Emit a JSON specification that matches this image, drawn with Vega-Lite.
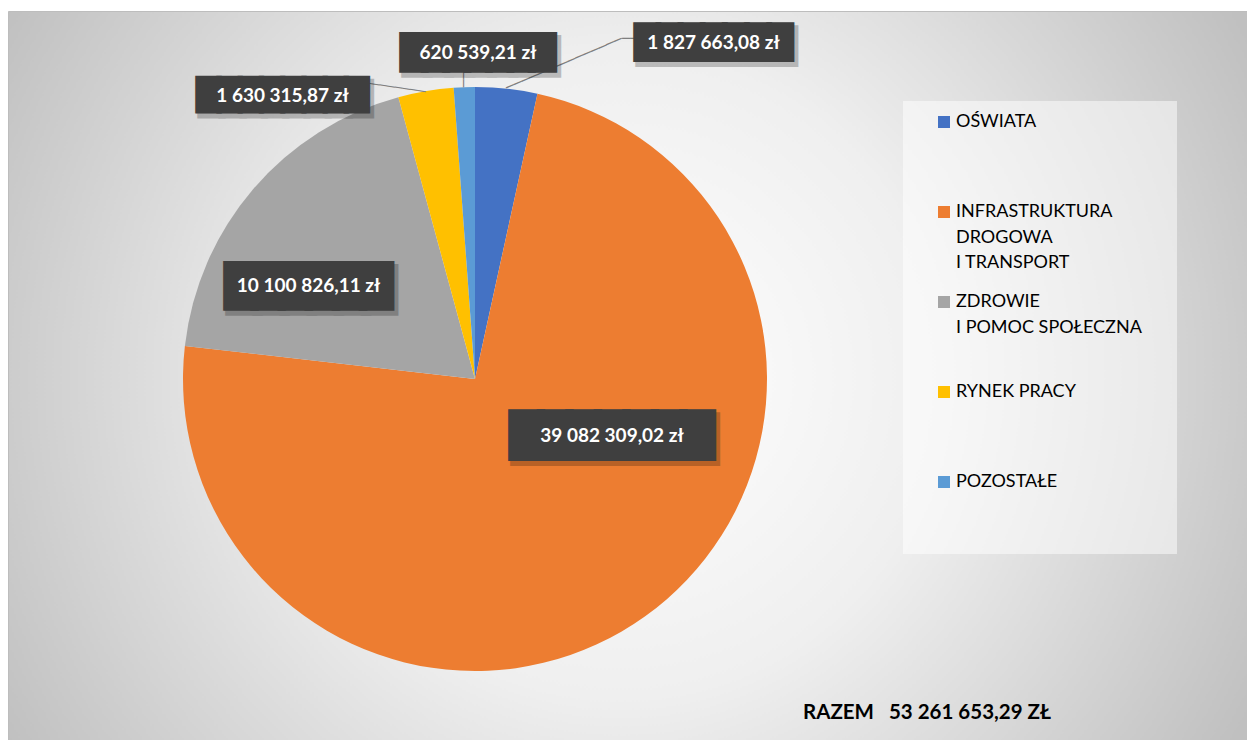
{
  "$schema": "https://vega.github.io/schema/vega-lite/v6.json",
  "width": 1239,
  "height": 729,
  "autosize": {"type": "none"},
  "padding": {"left": 8, "top": 11, "right": 0, "bottom": 0},
  "background": "#ffffff",
  "view": {
    "fill": {"gradient": "radial", "x1": 0.494, "y1": 0.5, "x2": 0.494, "y2": 0.5, "r1": 0, "r2": 0.575,
      "stops": [{"offset": 0, "color": "#ffffff"}, {"offset": 0.45, "color": "#efefef"}, {"offset": 1, "color": "#c0c0c0"}]},
    "stroke": "#bdbdbd",
    "strokeWidth": 1
  },
  "config": {
    "locale": {"number": {"decimal": ",", "thousands": " ", "grouping": [3], "currency": ["", " zł"]}},
    "style": {"guide-label": {"lineHeight": 25.5}}
  },
  "title": {
    "text": "RAZEM \u00a0 53 261 653,29 ZŁ",
    "orient": "bottom", "anchor": "start", "frame": "group", "offset": -37, "dx": 795,
    "baseline": "top", "font": "Lato", "fontSize": 20.5, "fontWeight": "bold", "color": "#000000"
  },
  "data": {"values": [
    {"kategoria": "OŚWIATA", "wartosc": 1827663.08, "kolejnosc": 1},
    {"kategoria": "INFRASTRUKTURA\nDROGOWA\nI TRANSPORT", "wartosc": 39082309.02, "kolejnosc": 2},
    {"kategoria": "ZDROWIE\nI POMOC SPOŁECZNA", "wartosc": 10100826.11, "kolejnosc": 3},
    {"kategoria": "RYNEK PRACY", "wartosc": 1630315.87, "kolejnosc": 4},
    {"kategoria": "POZOSTAŁE", "wartosc": 620539.21, "kolejnosc": 5}
  ]},
  "transform": [
    {"stack": "wartosc", "groupby": [], "offset": "normalize", "sort": [{"field": "kolejnosc", "order": "ascending"}], "as": ["w0", "w1"]},
    {"calculate": "(datum.w0 + datum.w1) / 2", "as": "wmid"}
  ],
  "encoding": {
    "x": {"datum": 0, "type": "quantitative", "scale": {"domain": [-1.5993, 2.6438], "nice": false, "zero": false}, "axis": null},
    "y": {"datum": 0, "type": "quantitative", "scale": {"domain": [-1.2363, 1.2603], "nice": false, "zero": false}, "axis": null}
  },
  "layer": [
    {
      "mark": {"type": "arc", "radius": 292},
      "encoding": {
        "theta": {"field": "w0", "type": "quantitative", "stack": null, "scale": {"domain": [0, 1], "nice": false}},
        "theta2": {"field": "w1"},
        "color": {
          "field": "kategoria", "type": "nominal", "sort": null,
          "scale": {"range": ["#4472C4", "#ED7D31", "#A5A5A5", "#FFC000", "#5B9BD5"]},
          "legend": {
            "orient": "none", "legendX": 895, "legendY": 90, "title": null, "direction": "vertical",
            "fillColor": "rgba(255,255,255,0.5)", "padding": 12,
            "symbolType": "square", "symbolSize": 144, "symbolStrokeWidth": 0,
            "symbolOffset": 20, "labelOffset": 3,
            "labelFont": "Lato", "labelFontSize": 18, "labelColor": "#000000", "labelLimit": 400,
            "labelExpr": "slice(split(datum.label + '\u00a0\u00a0\u00a0\u00a0\u00a0\u200b\\n \\n ', '\\n'), 0, 3)",
            "rowPadding": 21, "gridAlign": "all"
          }
        }
      }
    },
    {
      "transform": [{"filter": "datum.kolejnosc == 1"}],
      "encoding": {"theta": {"field": "wmid", "type": "quantitative", "scale": {"domain": [0, 1], "nice": false}}},
      "layer": [
        {"mark": {"type": "text", "radius": 292, "text": "───────────────", "font": "DejaVu Sans", "fontSize": 13.93, "align": "left", "baseline": "middle", "angle": -23.26, "fill": "#7f7f7f"}},
        {"mark": {"type": "text", "radius": 292, "text": "──", "font": "DejaVu Sans", "fontSize": 14, "align": "left", "baseline": "middle", "dx": 115.6, "dy": -49.7, "fill": "#7f7f7f"}},
        {"mark": {"type": "text", "radius": 292, "text": "███████", "font": "DejaVu Sans", "fontSize": 28.82, "align": "center", "baseline": "middle", "dx": 210.1, "dy": -41.5, "fill": "#000000", "stroke": "#000000", "strokeWidth": 7.45, "strokeJoin": "miter", "opacity": 0.22}},
        {"mark": {"type": "text", "radius": 292, "text": "███████", "font": "DejaVu Sans", "fontSize": 28.82, "align": "center", "baseline": "middle", "dx": 207.1, "dy": -45.5, "fill": "#3f3f3f", "stroke": "#3f3f3f", "strokeWidth": 5.45, "strokeJoin": "miter"}},
        {"mark": {"type": "text", "radius": 292, "font": "Lato", "fontSize": 19, "fontWeight": "bold", "align": "center", "baseline": "middle", "dx": 207.1, "dy": -46.0, "fill": "#ffffff"},
         "encoding": {"text": {"field": "wartosc", "type": "quantitative", "format": "$,.2f"}}}
      ]
    },
    {
      "transform": [{"filter": "datum.kolejnosc == 5"}],
      "encoding": {"theta": {"field": "wmid", "type": "quantitative", "scale": {"domain": [0, 1], "nice": false}}},
      "layer": [
        {"mark": {"type": "text", "radius": 292, "text": "───", "font": "DejaVu Sans", "fontSize": 13, "align": "left", "baseline": "middle", "angle": -90, "fill": "#7f7f7f"}},
        {"mark": {"type": "text", "radius": 292, "text": "███████", "font": "DejaVu Sans", "fontSize": 27.88, "align": "center", "baseline": "middle", "dx": 16.7, "dy": -29.5, "fill": "#000000", "stroke": "#000000", "strokeWidth": 9.55, "strokeJoin": "miter", "opacity": 0.22}},
        {"mark": {"type": "text", "radius": 292, "text": "███████", "font": "DejaVu Sans", "fontSize": 27.88, "align": "center", "baseline": "middle", "dx": 13.7, "dy": -33.5, "fill": "#3f3f3f", "stroke": "#3f3f3f", "strokeWidth": 7.55, "strokeJoin": "miter"}},
        {"mark": {"type": "text", "radius": 292, "font": "Lato", "fontSize": 19, "fontWeight": "bold", "align": "center", "baseline": "middle", "dx": 13.7, "dy": -34.0, "fill": "#ffffff"},
         "encoding": {"text": {"field": "wartosc", "type": "quantitative", "format": "$,.2f"}}}
      ]
    },
    {
      "transform": [{"filter": "datum.kolejnosc == 4"}],
      "encoding": {"theta": {"field": "wmid", "type": "quantitative", "scale": {"domain": [0, 1], "nice": false}}},
      "layer": [
        {"mark": {"type": "text", "radius": 292, "text": "────────", "font": "DejaVu Sans", "fontSize": 13, "align": "left", "baseline": "middle", "angle": 188.36, "fill": "#7f7f7f"}},
        {"mark": {"type": "text", "radius": 292, "text": "████████", "font": "DejaVu Sans", "fontSize": 27.58, "align": "center", "baseline": "middle", "dx": -140.3, "dy": 8.95, "fill": "#000000", "stroke": "#000000", "strokeWidth": 6.9, "strokeJoin": "miter", "opacity": 0.22}},
        {"mark": {"type": "text", "radius": 292, "text": "████████", "font": "DejaVu Sans", "fontSize": 27.58, "align": "center", "baseline": "middle", "dx": -143.3, "dy": 4.95, "fill": "#3f3f3f", "stroke": "#3f3f3f", "strokeWidth": 4.9, "strokeJoin": "miter"}},
        {"mark": {"type": "text", "radius": 292, "font": "Lato", "fontSize": 19, "fontWeight": "bold", "align": "center", "baseline": "middle", "dx": -143.3, "dy": 4.5, "fill": "#ffffff"},
         "encoding": {"text": {"field": "wartosc", "type": "quantitative", "format": "$,.2f"}}}
      ]
    },
    {
      "transform": [{"filter": "datum.kolejnosc == 3"}],
      "encoding": {"theta": {"field": "wmid", "type": "quantitative", "scale": {"domain": [0, 1], "nice": false}}},
      "layer": [
        {"mark": {"type": "text", "radius": 190, "text": "██████", "font": "DejaVu Sans", "fontSize": 35.24, "align": "center", "baseline": "middle", "dx": -19.3, "dy": 35.35, "fill": "#000000", "stroke": "#000000", "strokeWidth": 9.98, "strokeJoin": "miter", "opacity": 0.22}},
        {"mark": {"type": "text", "radius": 190, "text": "██████", "font": "DejaVu Sans", "fontSize": 35.24, "align": "center", "baseline": "middle", "dx": -22.3, "dy": 31.35, "fill": "#3f3f3f", "stroke": "#3f3f3f", "strokeWidth": 7.98, "strokeJoin": "miter"}},
        {"mark": {"type": "text", "radius": 190, "font": "Lato", "fontSize": 19, "fontWeight": "bold", "align": "center", "baseline": "middle", "dx": -22.3, "dy": 30.45, "fill": "#ffffff"},
         "encoding": {"text": {"field": "wartosc", "type": "quantitative", "format": "$,.2f"}}}
      ]
    },
    {
      "transform": [{"filter": "datum.kolejnosc == 2"}],
      "encoding": {"theta": {"field": "wmid", "type": "quantitative", "scale": {"domain": [0, 1], "nice": false}}},
      "layer": [
        {"mark": {"type": "text", "radius": 150, "text": "███████", "font": "DejaVu Sans", "fontSize": 37.09, "align": "center", "baseline": "middle", "dx": 52.76, "dy": -60.3, "fill": "#000000", "stroke": "#000000", "strokeWidth": 9.83, "strokeJoin": "miter", "opacity": 0.22}},
        {"mark": {"type": "text", "radius": 150, "text": "███████", "font": "DejaVu Sans", "fontSize": 37.09, "align": "center", "baseline": "middle", "dx": 49.76, "dy": -64.3, "fill": "#3f3f3f", "stroke": "#3f3f3f", "strokeWidth": 7.83, "strokeJoin": "miter"}},
        {"mark": {"type": "text", "radius": 150, "font": "Lato", "fontSize": 19, "fontWeight": "bold", "align": "center", "baseline": "middle", "dx": 49.76, "dy": -65.3, "fill": "#ffffff"},
         "encoding": {"text": {"field": "wartosc", "type": "quantitative", "format": "$,.2f"}}}
      ]
    }
  ]
}
